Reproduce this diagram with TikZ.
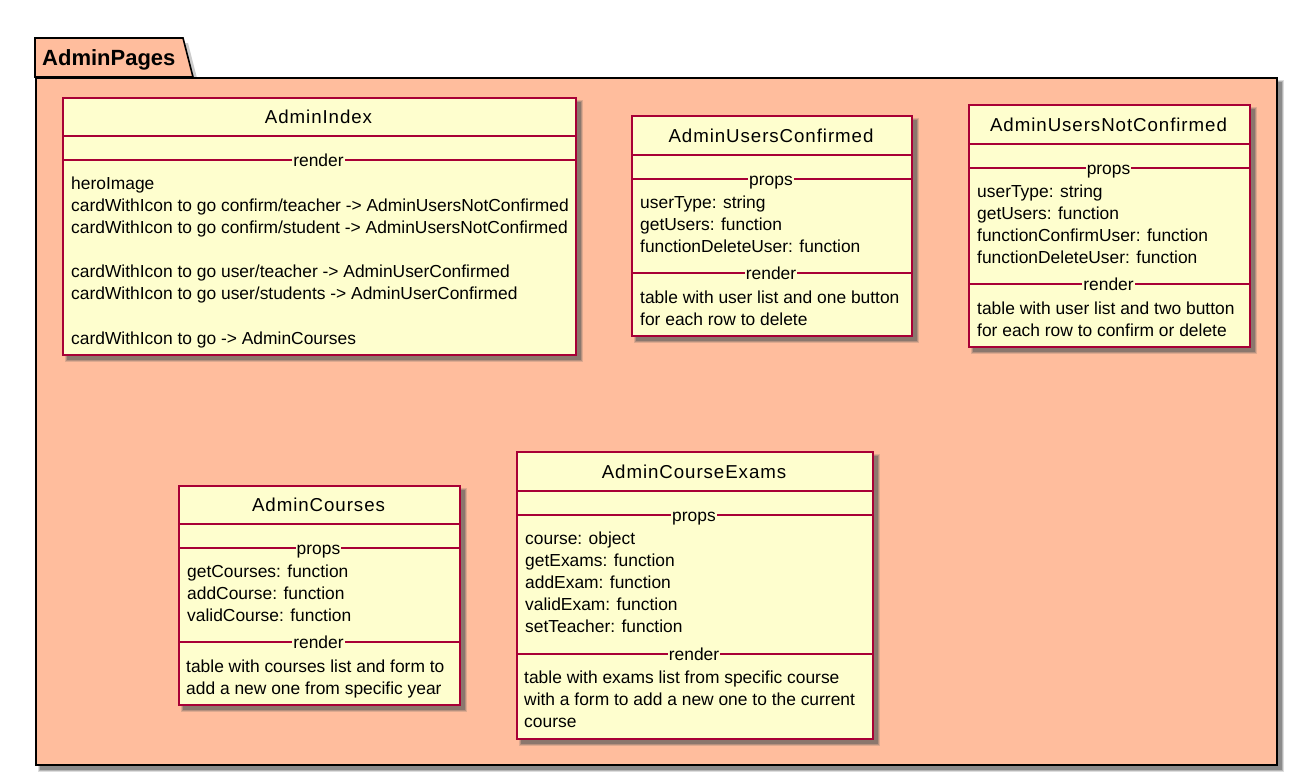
\documentclass[tikz,border=0pt]{standalone}
\usepackage{fontspec}
\setmainfont{Liberation Sans}
\newfontfamily\titlefont[LetterSpace=5]{Liberation Sans}
\definecolor{pkgfill}{HTML}{FFBD9D}
\definecolor{clsfill}{HTML}{FEFECE}
\definecolor{clsline}{HTML}{A80036}
\tikzset{
 pkgbody/.style={draw=black, line width=1.6pt, fill=pkgfill, inner sep=0pt, anchor=north west},
 pkgtab/.style={draw=black, line width=1.6pt, fill=pkgfill},
 pkglabel/.style={font=\bfseries\fontsize{22}{26}\selectfont, anchor=base west, inner sep=0pt},
 classbox/.style={draw=clsline, line width=2pt, fill=clsfill, inner sep=0pt, anchor=north west},
 shadeA/.style={fill=black!65, opacity=0.2},
 shadeB/.style={fill=black!65, opacity=0.3},
 shadeC/.style={fill=black!65, opacity=0.45},
 sepline/.style={draw=clsline, line width=1.1pt},
 clstitle/.style={font=\titlefont\fontsize{18.7}{22}\selectfont, anchor=base, inner sep=0pt},
 body/.style={font=\fontsize{17.4}{22}\selectfont, anchor=base west, inner sep=0pt},
 seclabel/.style={font=\fontsize{17.4}{22}\selectfont, anchor=base, fill=clsfill, inner xsep=1pt, inner ysep=0pt},
}
\newcommand\dropshade[4]{%
 \fill[shadeA] (#1+3,#2+3) rectangle (#3+8,#4+8);
 \fill[shadeB] (#1+4,#2+4) rectangle (#3+7,#4+7);
 \fill[shadeC] (#1+5,#2+5) rectangle (#3+6,#4+6);
}
\begin{document}
\begin{tikzpicture}[x=1pt,y=-1pt]
\useasboundingbox[fill=white] (0,0) rectangle (1308,780);

% package
\dropshade{35}{77}{1276}{764}
\fill[shadeB] (40,43) -- (188,43) -- (198,82) -- (40,82) -- cycle;
\draw[pkgtab] (35,77) -- (35,38) -- (183,38) -- (193,77) -- cycle;
\node[pkgbody, minimum width=1241pt, minimum height=687pt] (adminPages) at (35,77) {};
\node[pkglabel] (pkgName) at (42,65) {AdminPages};

% ---------- AdminIndex ----------
\dropshade{62}{97}{575}{354}
\node[classbox, minimum width=513pt, minimum height=257pt] (adminIndex) at (62,97) {};
\node[clstitle] (aiTitle) at (318.5,123.5) {AdminIndex};
\draw[sepline] (62,136) -- (575,136);
\draw[sepline] (62,160) -- (575,160);
\node[seclabel] (aiRender) at (318.5,166.5) {render};
\node[body] (ai1) at (71,189.5) {heroImage};
\node[body] (ai2) at (71,211.5) {cardWithIcon to go confirm/teacher -> AdminUsersNotConfirmed};
\node[body] (ai3) at (71,233.5) {cardWithIcon to go confirm/student -> AdminUsersNotConfirmed};
\node[body] (ai4) at (71,277.5) {cardWithIcon to go user/teacher -> AdminUserConfirmed};
\node[body] (ai5) at (71,299.5) {cardWithIcon to go user/students -> AdminUserConfirmed};
\node[body] (ai6) at (71,344.5) {cardWithIcon to go -> AdminCourses};

% ---------- AdminUsersConfirmed ----------
\dropshade{631}{115}{911}{335}
\node[classbox, minimum width=280pt, minimum height=220pt] (adminUsersConfirmed) at (631,115) {};
\node[clstitle] (aucTitle) at (771,142.5) {AdminUsersConfirmed};
\draw[sepline] (631,155) -- (911,155);
\draw[sepline] (631,179) -- (911,179);
\node[seclabel] (aucProps) at (771,185.5) {props};
\node[body] (auc1) at (640,208.5) {userType: string};
\node[body] (auc2) at (640,230.5) {getUsers: function};
\node[body] (auc3) at (640,252.5) {functionDeleteUser: function};
\draw[sepline] (631,273) -- (911,273);
\node[seclabel] (aucRender) at (771,279.5) {render};
\node[body] (auc4) at (640,303.5) {table with user list and one button};
\node[body] (auc5) at (640,325.5) {for each row to delete};

% ---------- AdminUsersNotConfirmed ----------
\dropshade{968}{104}{1249}{346}
\node[classbox, minimum width=281pt, minimum height=242pt] (adminUsersNotConfirmed) at (968,104) {};
\node[clstitle] (auncTitle) at (1108.5,131.5) {AdminUsersNotConfirmed};
\draw[sepline] (968,144) -- (1249,144);
\draw[sepline] (968,168) -- (1249,168);
\node[seclabel] (auncProps) at (1108.5,174.5) {props};
\node[body] (aunc1) at (977,197.5) {userType: string};
\node[body] (aunc2) at (977,219.5) {getUsers: function};
\node[body] (aunc3) at (977,241.5) {functionConfirmUser: function};
\node[body] (aunc4) at (977,263.5) {functionDeleteUser: function};
\draw[sepline] (968,284) -- (1249,284);
\node[seclabel] (auncRender) at (1108.5,290.5) {render};
\node[body] (aunc5) at (977,314.5) {table with user list and two button};
\node[body] (aunc6) at (977,336.5) {for each row to confirm or delete};

% ---------- AdminCourses ----------
\dropshade{178}{485}{459}{704}
\node[classbox, minimum width=281pt, minimum height=219pt] (adminCourses) at (178,485) {};
\node[clstitle] (acTitle) at (318.5,511.5) {AdminCourses};
\draw[sepline] (178,524) -- (459,524);
\draw[sepline] (178,548) -- (459,548);
\node[seclabel] (acProps) at (318.5,554.5) {props};
\node[body] (ac1) at (187,577.5) {getCourses: function};
\node[body] (ac2) at (187,599.5) {addCourse: function};
\node[body] (ac3) at (187,621.5) {validCourse: function};
\draw[sepline] (178,642) -- (459,642);
\node[seclabel] (acRender) at (318.5,648.5) {render};
\node[body] (ac4) at (186,672.5) {table with courses list and form to};
\node[body] (ac5) at (186,694.5) {add a new one from specific year};

% ---------- AdminCourseExams ----------
\dropshade{516}{451}{872}{738}
\node[classbox, minimum width=356pt, minimum height=287pt] (adminCourseExams) at (516,451) {};
\node[clstitle] (aceTitle) at (694,478.5) {AdminCourseExams};
\draw[sepline] (516,491) -- (872,491);
\draw[sepline] (516,515) -- (872,515);
\node[seclabel] (aceProps) at (694,521.5) {props};
\node[body] (ace1) at (525,544.5) {course: object};
\node[body] (ace2) at (525,566.5) {getExams: function};
\node[body] (ace3) at (525,588.5) {addExam: function};
\node[body] (ace4) at (525,610.5) {validExam: function};
\node[body] (ace5) at (525,632.5) {setTeacher: function};
\draw[sepline] (516,654) -- (872,654);
\node[seclabel] (aceRender) at (694,660.5) {render};
\node[body] (ace6) at (524,683.5) {table with exams list from specific course};
\node[body] (ace7) at (524,705.5) {with a form to add a new one to the current};
\node[body] (ace8) at (524,727.5) {course};
\end{tikzpicture}
\end{document}
